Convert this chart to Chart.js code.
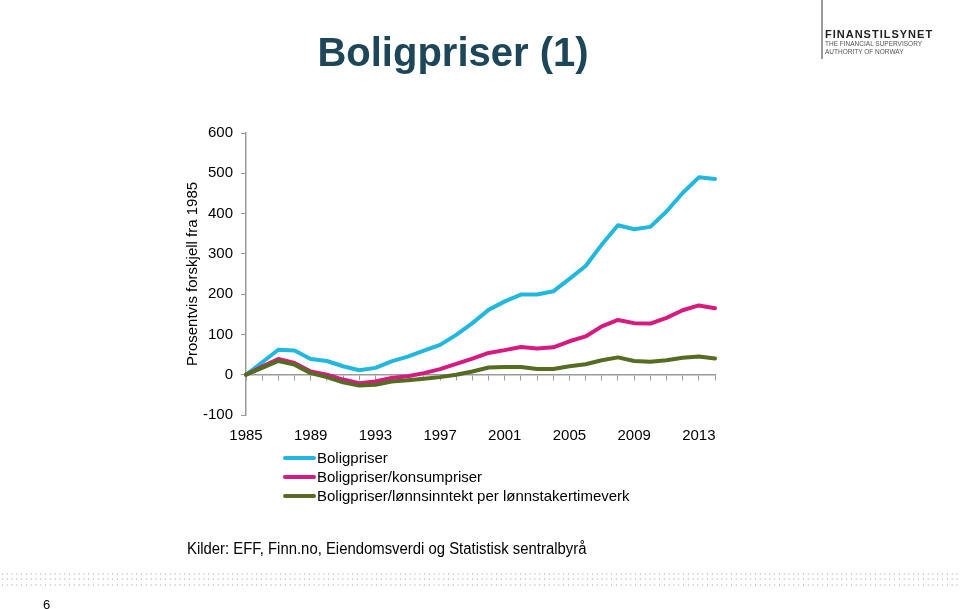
<!DOCTYPE html>
<html>
<head>
<meta charset="utf-8">
<script src="https://cdn.jsdelivr.net/npm/chart.js@4"></script>
<style>
  body { margin: 0; width: 960px; height: 609px; overflow: hidden; background: #fff; position: relative; font-family: Arial, "Liberation Sans", sans-serif; }
  .abs { position: absolute; white-space: nowrap; }
  #title { left: 0; width: 906px; top: 32px; text-align: center; font-weight: bold; font-size: 40px; line-height: 40px; color: #1d4659; }
  #logoLine { left: 821px; top: 0; width: 1.5px; height: 59px; background: #9a9a9a; }
  #logoName { left: 825px; top: 28px; font-weight: bold; font-size: 11px; line-height: 12px; letter-spacing: 1px; color: #222; }
  .logoSub { left: 825px; font-size: 6.5px; line-height: 8px; color: #555; }
  #wrap { position: absolute; left: 0; top: 0; width: 960px; height: 609px; }
  #legend { left: 283px; top: 448px; font-size: 15px; color: #000; }
  .item { height: 19px; line-height: 19px; display: flex; align-items: center; }
  .swatch { width: 33px; height: 4px; border-radius: 2px; margin-right: 1px; }
  #source { left: 187px; top: 540px; font-size: 16px; line-height: 18px; color: #000; transform: scaleX(0.93); transform-origin: left top; }
  .dots { left: 0; width: 960px; height: 2px; background-image: radial-gradient(circle, #c3ccd2 0.8px, transparent 1px); background-size: 4.8px 2px; }
  #page { left: 43px; top: 598px; font-size: 13px; line-height: 14px; color: #000; }
</style>
</head>
<body>
<div id="wrap"><canvas id="myChart" width="960" height="609"></canvas></div>
<div class="abs" id="title">Boligpriser (1)</div>
<div class="abs" id="logoLine"></div>
<div class="abs" id="logoName">FINANSTILSYNET</div>
<div class="abs logoSub" style="top:40px">THE FINANCIAL SUPERVISORY</div>
<div class="abs logoSub" style="top:48px">AUTHORITY OF NORWAY</div>
<div class="abs" id="legend"></div>
<div class="abs" id="source">Kilder: EFF, Finn.no, Eiendomsverdi og Statistisk sentralbyrå</div>
<div class="abs dots" style="top:573px"></div>
<div class="abs dots" style="top:578px"></div>
<div class="abs dots" style="top:584px"></div>
<div class="abs" id="page">6</div>
<script>
const years = ['1985','1986','1987','1988','1989','1990','1991','1992','1993','1994',
               '1995','1996','1997','1998','1999','2000','2001','2002','2003','2004',
               '2005','2006','2007','2008','2009','2010','2011','2012','2013','2014']
const xTickLabels = ['1985','1989','1993','1997','2001','2005','2009','2013']

const boligpriser = [0, 31, 62, 60, 39, 34, 21, 11, 17, 33,
                     45, 60, 74, 99, 128, 161, 182, 199, 199, 207,
                     238, 270, 323, 371, 361, 367, 405, 451, 490, 486]
const motKonsumpriser = [0, 20, 39, 29, 8, 0, -12, -21, -17, -8,
                         -4, 4, 14, 27, 40, 54, 61, 69, 65, 68,
                         83, 95, 120, 136, 128, 127, 141, 160, 172, 165]
const motLonn = [0, 17, 34, 25, 4, -6, -19, -27, -25, -17,
                 -14, -10, -6, 0, 8, 18, 19, 19, 14, 14,
                 21, 26, 36, 43, 34, 32, 36, 42, 45, 40]

const seriesNames = ['Boligpriser', 'Boligpriser/konsumpriser', 'Boligpriser/lønnsinntekt per lønnstakertimeverk']
const seriesColors = ['#22b7dd', '#d61a80', '#566c22']

const axisGray = '#9a9a9a'
const font = { family: 'Arial, "Liberation Sans", sans-serif', size: 15 }

function makeSet(i, data, order) {
    return {
        label: seriesNames[i],
        data: data,
        borderColor: seriesColors[i],
        backgroundColor: seriesColors[i],
        borderWidth: 4,
        pointRadius: 0,
        tension: 0,
        borderJoinStyle: 'round',
        borderCapStyle: 'round',
        order: order,
        xAxisID: 'x',
        yAxisID: 'y'
    }
}

const config = {
    type: 'line',
    data: {
        labels: years,
        datasets: [
            makeSet(0, boligpriser, 2),
            makeSet(1, motKonsumpriser, 1),
            makeSet(2, motLonn, 0)
        ]
    },
    options: {
        responsive: false,
        animation: false,
        events: [],
        layout: { padding: { left: 184, right: 245, top: 133, bottom: 160 } },
        plugins: { legend: { display: false }, tooltip: { enabled: false } },
        scales: {
            x: {
                type: 'category',
                position: 'bottom',
                offset: false,
                grid: { display: false, drawTicks: false },
                border: { display: false },
                ticks: {
                    autoSkip: false, maxRotation: 0, color: '#000', font: font, padding: 12,
                    callback: function(v) {
                        const l = this.getLabelForValue(v)
                        return xTickLabels.includes(l) ? l : ''
                    }
                },
                afterFit: s => { s.height = 34 }
            },
            x0: {
                type: 'category',
                position: { y: 0 },
                offset: false,
                grid: { drawOnChartArea: false, drawTicks: true, tickLength: 5, color: axisGray, lineWidth: 1 },
                border: { color: axisGray, width: 1.5 },
                ticks: { display: false, autoSkip: false }
            },
            y: {
                min: -100,
                max: 600,
                ticks: { stepSize: 100, color: '#000', font: font, padding: 8 },
                grid: { drawOnChartArea: false, drawTicks: true, tickLength: 5, color: axisGray, lineWidth: 1 },
                border: { color: axisGray, width: 1.5 },
                title: { display: true, text: 'Prosentvis forskjell fra 1985', color: '#000', font: font, padding: 0 },
                afterFit: s => { s.width = 62 }
            }
        }
    }
}

const chart = new Chart(document.getElementById('myChart'), config)

// legend under the chart, one item per row like the original
const legend = document.getElementById('legend')
chart.data.datasets.forEach(ds => {
    const row = document.createElement('div')
    row.className = 'item'
    row.innerHTML = `<span class="swatch" style="background:${ds.borderColor}"></span><span>${ds.label}</span>`
    legend.appendChild(row)
})
</script>
</body>
</html>
